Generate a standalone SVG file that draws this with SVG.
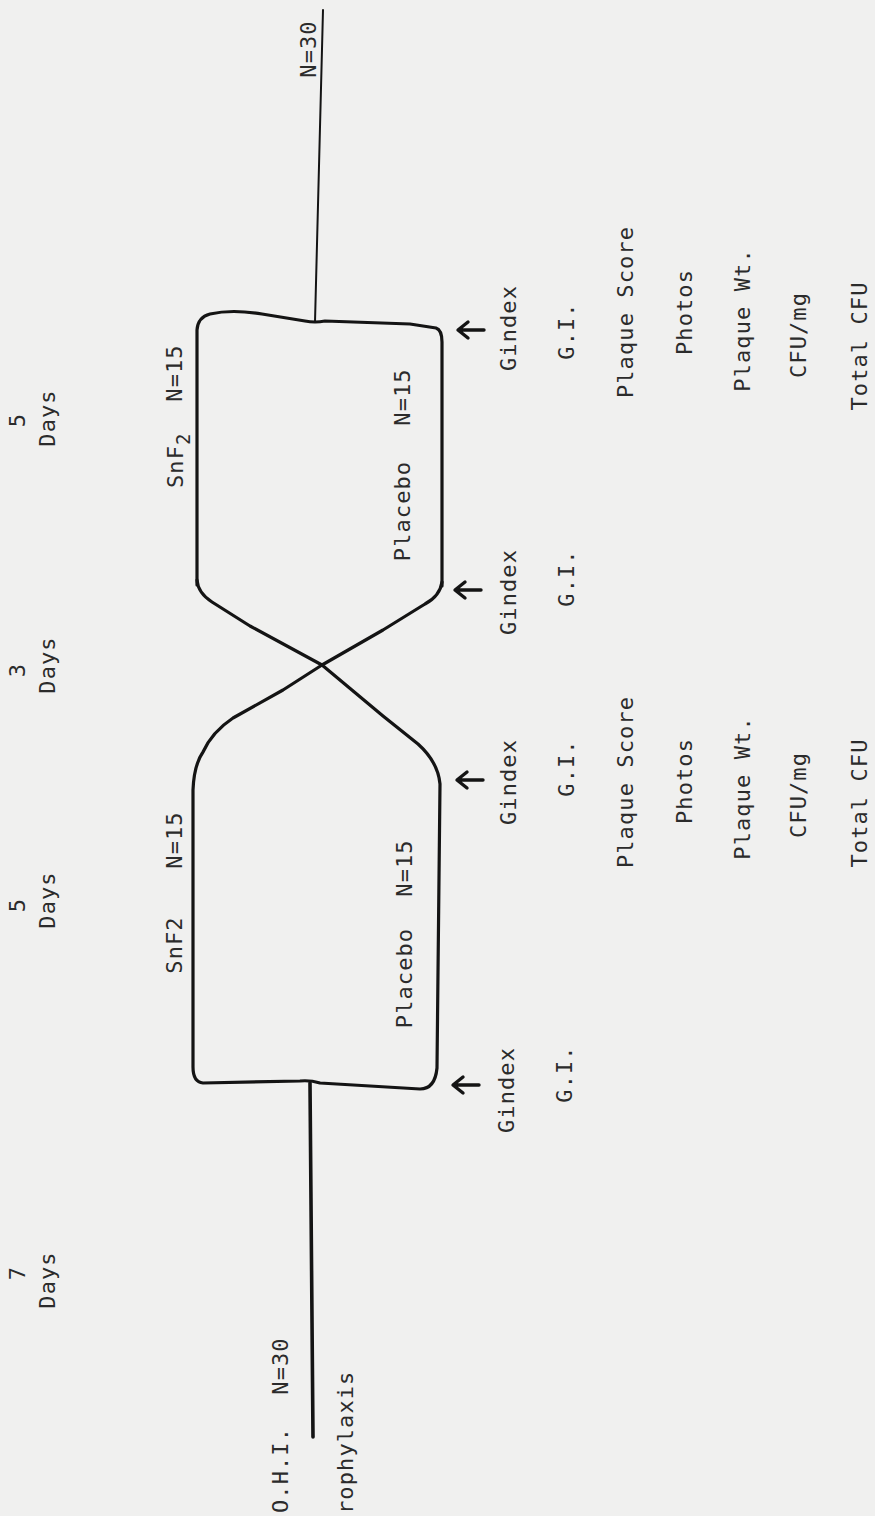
<svg xmlns="http://www.w3.org/2000/svg" width="875" height="1516" viewBox="0 0 875 1516">
<style>
text{font-family:"DejaVu Sans Mono","Liberation Mono",monospace;font-size:22px;letter-spacing:1.1px;fill:#2b2b2b;text-anchor:middle}
.st{text-anchor:start}
.ln{fill:none;stroke:#141414;stroke-linecap:round;stroke-linejoin:round}
.box{stroke-width:3.2}
.arr{fill:none;stroke:#141414;stroke-width:3.4;stroke-linecap:round;stroke-linejoin:round}
</style>
<defs>
<path id="arw" d="M484 0 L459 0 M468 -8 L458 0 L468 8"/>
</defs>
<rect width="875" height="1516" fill="#f0f0ef"/>

<g id="connectors">
<path class="ln" stroke-width="2" d="M315 322 L323 10"/>
<path class="ln" stroke-width="3.6" d="M310 1083 L313 1437"/>
<path class="ln box" d="M197 585 L197 330 Q198 317 210 314 Q232 309 262 314 L305 321 Q315 323 325 321 L410 324 L436 328 Q442 330 442 342 L442 586"/>
<path class="ln box" d="M197 580 Q198 593 212 602 L250 626 L322 665 L383 716 L418 744 Q438 762 440 784 L437 1068 Q435 1089 420 1089 L320 1083 Q310 1080 300 1081 L203 1083 Q193 1082 193 1067 L193 790 Q194 765 203 752 Q212 732 233 718 L283 690 L322 665 L383 630 L425 604 Q440 596 442 582"/>
<use href="#arw" class="arr" transform="translate(0,330)"/>
<use href="#arw" class="arr" transform="translate(-3,590)"/>
<use href="#arw" class="arr" transform="translate(-1,780)"/>
<use href="#arw" class="arr" transform="translate(-5,1085)"/>
</g>

<g id="timeline-labels">
<text transform="translate(316,49) rotate(-90)">N=30</text>
<text transform="translate(25,420) rotate(-90)">5</text>
<text transform="translate(55,418) rotate(-90)">Days</text>
<text transform="translate(25,670) rotate(-90)">3</text>
<text transform="translate(55,665) rotate(-90)">Days</text>
<text transform="translate(25,905) rotate(-90)">5</text>
<text transform="translate(55,900) rotate(-90)">Days</text>
<text transform="translate(25,1273) rotate(-90)">7</text>
<text transform="translate(55,1280) rotate(-90)">Days</text>
</g>

<g id="start-node">
<text transform="translate(288,1470) rotate(-90)">O.H.I.</text>
<text transform="translate(288,1366) rotate(-90)">N=30</text>
<text class="st" transform="translate(353,1514) rotate(-90)">rophylaxis</text>
</g>

<g id="period1-snf2">
<text class="st" transform="translate(183,488) rotate(-90)">SnF<tspan dy="7" font-size="19">2</tspan></text>
<text transform="translate(182,373) rotate(-90)">N=15</text>
</g>
<g id="period1-placebo">
<text transform="translate(410,511) rotate(-90)">Placebo</text>
<text transform="translate(410,397) rotate(-90)">N=15</text>
</g>
<g id="period2-snf2">
<text transform="translate(182,945) rotate(-90)">SnF2</text>
<text transform="translate(182,840) rotate(-90)">N=15</text>
</g>
<g id="period2-placebo">
<text transform="translate(412,978) rotate(-90)">Placebo</text>
<text transform="translate(412,868) rotate(-90)">N=15</text>
</g>

<g id="measures-end">
<text transform="translate(516,328) rotate(-90)">Gindex</text>
<text transform="translate(574,331) rotate(-90)">G.I.</text>
<text transform="translate(633,312) rotate(-90)">Plaque Score</text>
<text transform="translate(692,312) rotate(-90)">Photos</text>
<text transform="translate(750,320) rotate(-90)">Plaque Wt.</text>
<text transform="translate(806,335) rotate(-90)">CFU/mg</text>
<text transform="translate(867,346) rotate(-90)">Total CFU</text>
</g>
<g id="measures-washout-end">
<text transform="translate(516,592) rotate(-90)">Gindex</text>
<text transform="translate(574,578) rotate(-90)">G.I.</text>
</g>
<g id="measures-period1-end">
<text transform="translate(516,782) rotate(-90)">Gindex</text>
<text transform="translate(574,768) rotate(-90)">G.I.</text>
<text transform="translate(633,782) rotate(-90)">Plaque Score</text>
<text transform="translate(692,781) rotate(-90)">Photos</text>
<text transform="translate(750,788) rotate(-90)">Plaque Wt.</text>
<text transform="translate(806,795) rotate(-90)">CFU/mg</text>
<text transform="translate(867,803) rotate(-90)">Total CFU</text>
</g>
<g id="measures-baseline">
<text transform="translate(514,1090) rotate(-90)">Gindex</text>
<text transform="translate(572,1074) rotate(-90)">G.I.</text>
</g>
</svg>
